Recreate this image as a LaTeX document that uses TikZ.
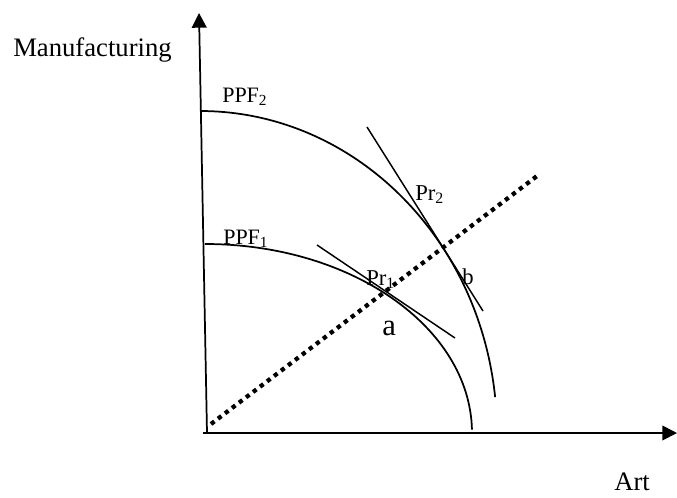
\documentclass[tikz,border=0pt]{standalone}
\usepackage{fontspec}
\setmainfont{Liberation Serif}
\usetikzlibrary{arrows.meta, positioning}

\begin{document}
\begin{tikzpicture}[
    x=0.75pt, y=-0.75pt,
    axis/.style={line width=1.3pt, -{Triangle[length=11pt, width=11pt]}},
    ppf/.style={line width=1.3pt},
    priceline/.style={line width=1.1pt},
    ray/.style={line width=3.2pt, dash pattern=on 3.2pt off 3.4pt},
    axislabel/.style={
        inner sep=0pt, anchor=base west,
        font=\fontsize{20}{23}\selectfont
    },
    curvelabel/.style={
        inner sep=0pt, anchor=base west,
        font=\fontsize{16.5}{19}\selectfont
    },
    pointlabel/.style={
        inner sep=0pt, anchor=base west,
        font=\fontsize{17}{20}\selectfont
    }
]
\useasboundingbox (0,0) rectangle (677,497);

% axes
\coordinate (origin) at (207,433);
\coordinate (ytip) at (199,13);
\coordinate (xstart) at (203,433);
\coordinate (xtip) at (677,433);
\draw[axis] (origin) -- (ytip);
\draw[axis] (xstart) -- (xtip);

\node[axislabel] (manuf) at (13,56) {Manufacturing};
\node[axislabel] (art) at (614,490) {Art};

% production possibility frontiers
\coordinate (ppf2top) at (200,111);
\coordinate (ppf1top) at (205,244);
\draw[ppf] (ppf2top) arc[start angle=-90, end angle=-6.4, x radius=297, y radius=322];
\draw[ppf] (ppf1top) arc[start angle=-90, end angle=-1, x radius=267, y radius=189];

\node[curvelabel] (ppf2) at (222,102) {PPF\textsubscript{2}};
\node[curvelabel] (ppf1) at (223,244) {PPF\textsubscript{1}};

% price lines
\coordinate (pr2a) at (367,127);
\coordinate (pr2b) at (483,311);
\coordinate (pr1a) at (317,245);
\coordinate (pr1b) at (455,338);
\draw[priceline] (pr2a) -- (pr2b);
\draw[priceline] (pr1a) -- (pr1b);

% ray from origin
\coordinate (raystart) at (211,424);
\coordinate (rayend) at (537,176);
\draw[ray] (raystart) -- (rayend);

\node[pointlabel] (pr2) at (415,200) {Pr\textsubscript{2}};
\node[pointlabel] (pr1) at (366,285) {Pr\textsubscript{1}};
\node[pointlabel] (b) at (462,284) {b};
\node[inner sep=0pt, anchor=base west, font=\fontsize{23}{26}\selectfont] (a) at (382,335) {a};

\end{tikzpicture}
\end{document}
